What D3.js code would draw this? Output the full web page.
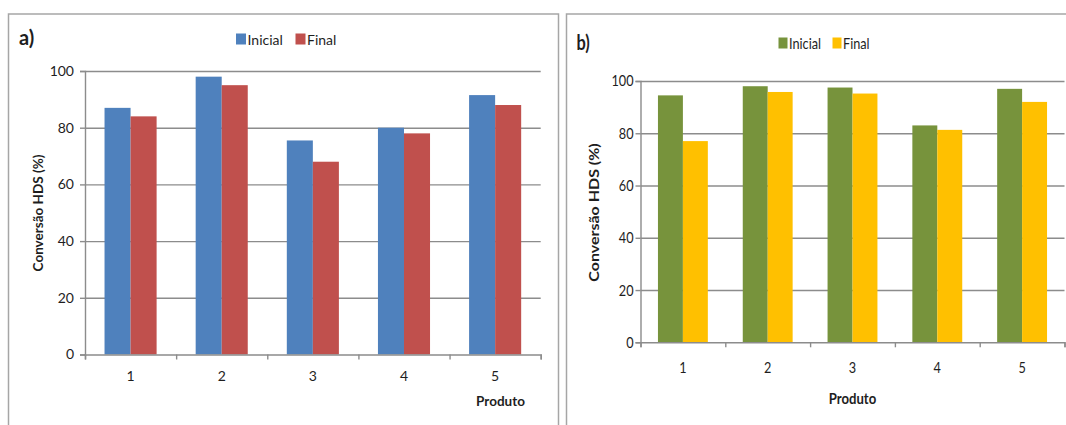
<!DOCTYPE html>
<html>
<head>
<meta charset="utf-8">
<script src="https://cdn.jsdelivr.net/npm/d3@7"></script>
<style>
  html, body { margin: 0; padding: 0; background: #fff; }
  svg { display: block; }
  text { font-family: Lato, "Open Sans", sans-serif; fill: #1e1e1e; }
</style>
</head>
<body>
<svg id="chart" width="1066" height="425"></svg>
<script>
// Product categories and series
const produtos = ["1", "2", "3", "4", "5"];
const seriesNames = ["Inicial", "Final"];
const yTicks = [0, 20, 40, 60, 80, 100];

// Panel a) HDS conversion (%)
const inicialA = [87, 98, 75.5, 80, 91.5];
const finalA = [84, 95, 68, 78, 88];

// Panel b) HDS conversion (%)
const inicialB = [94.5, 98, 97.5, 83, 97];
const finalB = [77, 95.8, 95.2, 81.3, 92];

const svg = d3.select("#chart");

function drawPanel(cfg) {
  const g = svg.append("g");
  const sx = cfg.textScaleX;

  // panel frame (runs past the bottom / right edge of the page)
  g.append("rect")
    .attr("x", cfg.frame[0]).attr("y", cfg.frame[1])
    .attr("width", cfg.frame[2]).attr("height", cfg.frame[3])
    .attr("fill", "none").attr("stroke", "#a6a6a6").attr("stroke-width", 1.5);

  const x = d3.scaleBand().domain(produtos).range([cfg.left, cfg.right]).padding(0);
  const xs = d3.scaleBand().domain(seriesNames).range([0, x.bandwidth()])
    .paddingInner(0).paddingOuter(cfg.groupPad);
  const y = d3.scaleLinear().domain([0, 100]).range([cfg.bottom, cfg.top]);
  const xEdge = d3.scaleLinear().domain([0, produtos.length]).range([cfg.left, cfg.right]);

  // gridlines
  const grid = g.append("g")
    .attr("transform", `translate(${cfg.left},0)`)
    .call(d3.axisLeft(y).tickValues(yTicks.filter(v => v > 0)).tickSize(-(cfg.right - cfg.left)).tickFormat(""));
  grid.select(".domain").remove();
  grid.selectAll("line").attr("stroke", "#8c8c8c").attr("stroke-width", 1.4);

  // bars
  const rows = produtos.map((p, i) => ({ p, vals: [cfg.inicial[i], cfg.final[i]] }));
  const grp = g.selectAll(".grp").data(rows).join("g")
    .attr("transform", d => `translate(${x(d.p)},0)`);
  grp.selectAll("rect").data(d => d.vals.map((v, k) => ({ s: seriesNames[k], v })))
    .join("rect")
    .attr("x", d => xs(d.s))
    .attr("width", xs.bandwidth())
    .attr("y", d => y(d.v))
    .attr("height", d => y(0) - y(d.v))
    .attr("fill", d => d.s === "Inicial" ? cfg.colors[0] : cfg.colors[1]);

  // y axis
  const ya = g.append("g")
    .attr("transform", `translate(${cfg.left},0)`)
    .call(d3.axisLeft(y).tickValues(yTicks).tickSize(5).tickPadding(cfg.yPad));
  ya.select(".domain").attr("stroke", "#8c8c8c").attr("stroke-width", 1.4);
  ya.selectAll("line").attr("stroke", "#8c8c8c").attr("stroke-width", 1.4);
  ya.selectAll("text")
    .style("font-size", cfg.tickFont + "px")
    .style("font-family", "Lato, sans-serif")
    .attr("fill", "#1e1e1e")
    .attr("transform", function () {
      const tx = +d3.select(this).attr("x");
      return `translate(${tx},0) scale(${sx},1) translate(${-tx},0)`;
    });

  // x axis: boundary ticks
  const xa = g.append("g")
    .attr("transform", `translate(0,${cfg.bottom})`)
    .call(d3.axisBottom(xEdge).tickValues(d3.range(produtos.length + 1)).tickSize(5).tickFormat(""));
  xa.select(".domain").attr("stroke", "#8c8c8c").attr("stroke-width", 1.4);
  xa.selectAll("line").attr("stroke", "#8c8c8c").attr("stroke-width", 1.4);

  // x axis: category labels
  const xl = g.append("g")
    .attr("transform", `translate(0,${cfg.bottom})`)
    .call(d3.axisBottom(x).tickSize(0).tickPadding(cfg.xPad));
  xl.select(".domain").remove();
  xl.selectAll("text")
    .style("font-size", cfg.tickFont + "px")
    .style("font-family", "Lato, sans-serif")
    .attr("fill", "#1e1e1e")
    .attr("transform", `scale(${sx},1)`)
    .attr("x", function () { return 0; });

  // axis titles
  g.append("text")
    .attr("transform", `translate(${cfg.yTitle[0]},${cfg.yTitle[1]}) rotate(-90) scale(1,${sx})`)
    .attr("text-anchor", "middle").attr("dominant-baseline", "central")
    .style("font-size", cfg.titleFont + "px").style("font-weight", "bold")
    .text("Conversão HDS (%)");

  g.append("text")
    .attr("transform", `translate(${cfg.xTitle[0]},${cfg.xTitle[1]}) scale(${sx},1)`)
    .attr("text-anchor", "middle").attr("dominant-baseline", "central")
    .style("font-size", cfg.titleFont + "px").style("font-weight", "bold")
    .text("Produto");

  // panel letter
  g.append("text")
    .attr("transform", `translate(${cfg.letter[0]},${cfg.letter[1]}) scale(${sx},1)`)
    .attr("dominant-baseline", "central")
    .style("font-size", "20px").style("font-weight", "bold")
    .text(cfg.label);

  // legend
  const lg = g.append("g").attr("transform", `translate(${cfg.legend[0]},${cfg.legend[1]})`);
  let cx = 0;
  seriesNames.forEach((s, k) => {
    lg.append("rect").attr("x", cx).attr("y", -5.5).attr("width", cfg.sw).attr("height", 11)
      .attr("fill", cfg.colors[k]);
    const t = lg.append("text")
      .attr("transform", `translate(${cx + cfg.sw + 1.5},0) scale(${sx},1)`)
      .attr("dominant-baseline", "central")
      .style("font-size", cfg.legendFont + "px")
      .text(s);
    cx += cfg.legendStep[k];
  });
}

drawPanel({
  label: "a)",
  inicial: inicialA, final: finalA,
  colors: ["#4f81bd", "#c0504d"],
  frame: [8.5, 14, 550, 430],
  left: 85, right: 540.7, top: 71, bottom: 354.5,
  groupPad: 0.75,
  textScaleX: 1,
  tickFont: 14, titleFont: 13.5, legendFont: 14,
  yPad: 6, xPad: 17,
  yTitle: [38, 213], xTitle: [500.5, 401],
  letter: [19, 37],
  legend: [236, 39], sw: 10, legendStep: [59.5, 0]
});

drawPanel({
  label: "b)",
  inicial: inicialB, final: finalB,
  colors: ["#77933c", "#ffc000"],
  frame: [566.5, 14, 520, 430],
  left: 640.5, right: 1064.5, top: 81, bottom: 342.3,
  groupPad: 0.7,
  textScaleX: 0.82,
  tickFont: 15.5, titleFont: 16, legendFont: 15.5,
  yPad: 2, xPad: 20,
  yTitle: [594, 212.5], xTitle: [852.5, 398],
  letter: [576.5, 42],
  legend: [778.5, 43], sw: 9, legendStep: [54, 0]
});
</script>
</body>
</html>
